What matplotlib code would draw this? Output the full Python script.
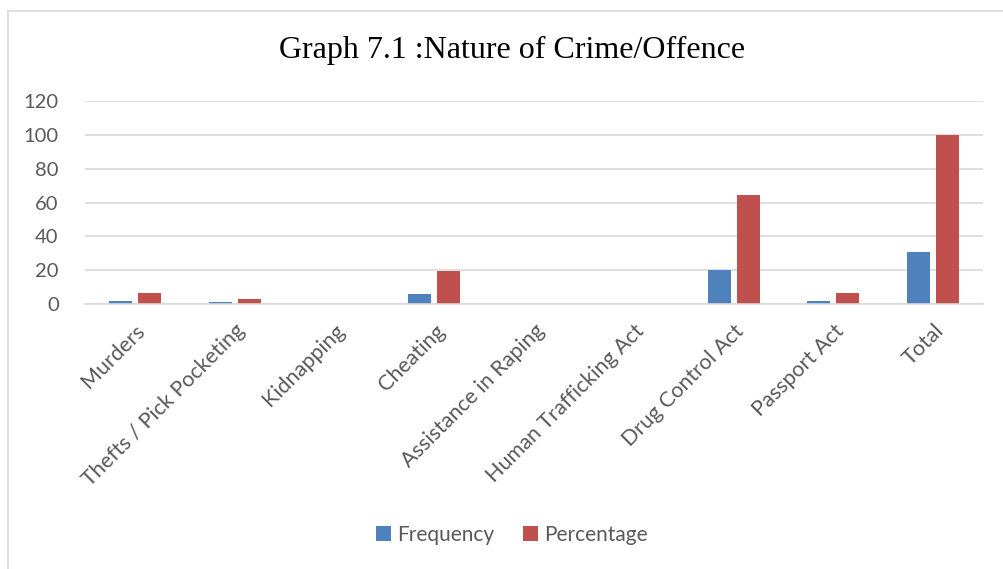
import matplotlib
matplotlib.use('Agg')
from matplotlib import pyplot as plt
from matplotlib.lines import Line2D
import numpy as np

categories = ['Murders', 'Thefts / Pick Pocketing', 'Kidnapping', 'Cheating',
              'Assistance in Raping', 'Human Trafficking Act', 'Drug Control Act',
              'Passport Act', 'Total']
frequency = [2, 1, 0, 6, 0, 0, 20, 2, 31]
percentage = [6.45, 3.23, 0, 19.35, 0, 0, 64.52, 6.45, 100]
yticks = [0, 20, 40, 60, 80, 100, 120]

blue = '#4f81bd'
red = '#c0504d'
gray = '#595959'
plt.rcParams['font.family'] = ['Lato', 'DejaVu Sans']

fig = plt.figure(figsize=(10.04, 5.69), dpi=100)
ax = fig.add_axes([0.0847, 0.4657, 0.8945, 0.3568])

x = np.arange(len(categories))
w = 0.23
ax.bar(x - 0.145, frequency, w, color=blue, label='Frequency')
ax.bar(x + 0.145, percentage, w, color=red, label='Percentage')

ax.set_xlim(-0.5, len(categories) - 0.5)
ax.set_ylim(0, 120)
ax.set_yticks(yticks)
ax.grid(axis='y', color='#d9d9d9', linewidth=1.2)
ax.set_axisbelow(True)
for s in ['top', 'right', 'left']:
    ax.spines[s].set_visible(False)
ax.spines['bottom'].set_color('#d9d9d9')
ax.spines['bottom'].set_linewidth(1.2)
ax.tick_params(length=0, colors=gray)
ax.tick_params(axis='y', pad=19, labelsize=14.5)
ax.tick_params(axis='x', pad=12, labelsize=15.5)
ax.set_xticks(x)
ax.set_xticklabels(categories, rotation=45, ha='right', rotation_mode='anchor')

fig.text(0.51, 1 - 50 / 569, 'Graph 7.1 :Nature of Crime/Offence', ha='center', va='center',
         fontsize=23, family='Liberation Serif', color='black')

fig.legend(loc='center', bbox_to_anchor=(0.51, 1 - 535 / 569), ncol=2, frameon=False,
           fontsize=15, labelcolor=gray, handlelength=0.7, handleheight=0.7,
           handletextpad=0.3, columnspacing=1.4)

# chart frame
fig.add_artist(Line2D([8 / 1004, 8 / 1004], [0, 1 - 11 / 569], color='#d9d9d9', lw=1.2))
fig.add_artist(Line2D([8 / 1004, 1], [1 - 11 / 569, 1 - 11 / 569], color='#d9d9d9', lw=1.2))

fig.savefig('out.png', dpi=100)
